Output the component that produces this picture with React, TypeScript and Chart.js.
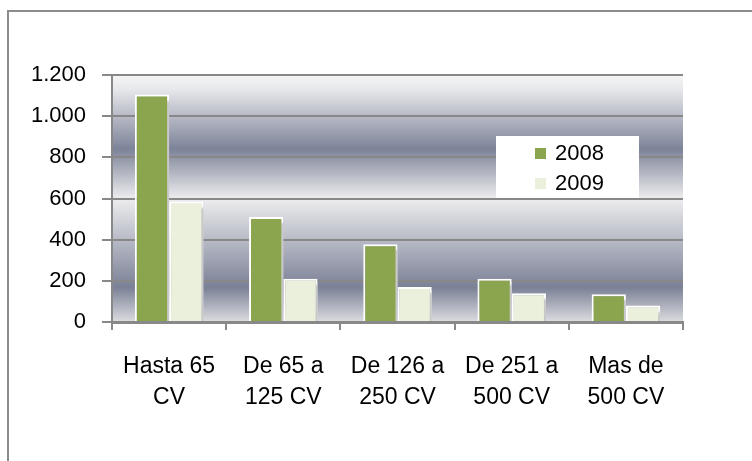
import React, { useEffect, useRef } from "react";
import { Chart, registerables } from "chart.js";

Chart.register(...registerables);

const categories: string[][] = [
  ["Hasta 65", "CV"],
  ["De 65 a", "125 CV"],
  ["De 126 a", "250 CV"],
  ["De 251 a", "500 CV"],
  ["Mas de", "500 CV"],
];
const seriesNames = ["2008", "2009"];
const values2008 = [1105, 510, 378, 210, 135];
const values2009 = [585, 210, 170, 140, 80];
const yTicks = [0, 200, 400, 600, 800, 1000, 1200];

const GREEN = "#8aa54e";
const CREAM = "#ebf0dc";
const FONT = "'Liberation Sans', Arial, sans-serif";

function fmt(v: number): string {
  if (v >= 1000) {
    return Math.floor(v / 1000) + "." + String(v % 1000).padStart(3, "0");
  }
  return String(v);
}

const bgPlugin = {
  id: "bgPlugin",
  beforeDraw(chart: any) {
    const { ctx, chartArea } = chart;
    const { left, top, right, bottom } = chartArea;
    ctx.save();
    ctx.fillStyle = "#ffffff";
    ctx.fillRect(0, 0, chart.width, chart.height);
    const g = ctx.createLinearGradient(0, top, 0, bottom);
    g.addColorStop(0, "#f6f6f7");
    g.addColorStop(0.06, "#e6e7ea");
    g.addColorStop(0.3, "#7d8398");
    g.addColorStop(0.5, "#ededef");
    g.addColorStop(0.68, "#b4b7c3");
    g.addColorStop(0.86, "#7b8196");
    g.addColorStop(1, "#dcdde1");
    ctx.fillStyle = g;
    ctx.fillRect(left, top, right - left, bottom - top);
    ctx.restore();
  },
  afterDraw(chart: any) {
    const { ctx } = chart;
    ctx.save();
    // outer frame
    ctx.fillStyle = "#8c8c8c";
    ctx.fillRect(7, 10, chart.width - 7, 2);
    ctx.fillRect(7, 10, 2, chart.height - 10);
    // legend
    ctx.fillStyle = "#ffffff";
    ctx.fillRect(496, 136, 143, 62);
    const colors = [GREEN, CREAM];
    ctx.font = `22px ${FONT}`;
    ctx.textBaseline = "middle";
    ctx.textAlign = "left";
    seriesNames.forEach((name, i) => {
      const cy = 153 + i * 30;
      ctx.fillStyle = colors[i];
      ctx.fillRect(535, cy - 5, 11, 11);
      ctx.fillStyle = "#000000";
      ctx.fillText(name, 555, cy + 1);
    });
    ctx.restore();
  },
};

const shadowPlugin = {
  id: "shadowPlugin",
  beforeDatasetDraw(chart: any) {
    const ctx = chart.ctx;
    ctx.save();
    ctx.shadowColor = "rgba(200,200,200,1)";
    ctx.shadowOffsetX = 6;
    ctx.shadowOffsetY = 4;
    ctx.shadowBlur = 2;
  },
  afterDatasetDraw(chart: any) {
    chart.ctx.restore();
  },
};

export default function App() {
  const ref = useRef<HTMLCanvasElement | null>(null);
  useEffect(() => {
    if (!ref.current) return;
    const chart = new Chart(ref.current, {
      type: "bar",
      data: {
        labels: categories as any,
        datasets: [
          {
            label: seriesNames[0],
            data: values2008,
            backgroundColor: GREEN,
            borderColor: "#ffffff",
            borderWidth: 2,
            categoryPercentage: 0.6,
            barPercentage: 1.0,
          },
          {
            label: seriesNames[1],
            data: values2009,
            backgroundColor: CREAM,
            borderColor: "#ffffff",
            borderWidth: 2,
            categoryPercentage: 0.6,
            barPercentage: 1.0,
          },
        ],
      },
      options: {
        responsive: false,
        animation: false,
        layout: { padding: { top: 75, right: 69, left: 0, bottom: 0 } },
        plugins: {
          legend: { display: false },
          tooltip: { enabled: false },
        },
        scales: {
          x: {
            grid: {
              drawOnChartArea: false,
              drawTicks: true,
              tickLength: 8,
              color: "#888888",
              lineWidth: 2,
              offset: true,
            },
            border: { color: "#888888", width: 3 },
            ticks: {
              color: "#000000",
              padding: 21,
              maxRotation: 0,
              autoSkip: false,
              font: { family: FONT, size: 23, lineHeight: 1.35 },
            },
            afterFit(scale: any) {
              scale.height = 139;
            },
          },
          y: {
            min: 0,
            max: 1200,
            afterBuildTicks(scale: any) {
              scale.ticks = yTicks.map((v) => ({ value: v }));
            },
            grid: {
              color: "#888888",
              lineWidth: 2,
              tickLength: 10,
              drawTicks: true,
            },
            border: { color: "#888888", width: 2 },
            ticks: {
              color: "#000000",
              padding: 16,
              font: { family: FONT, size: 22 },
              callback: (v: any) => fmt(Number(v)),
            },
            afterFit(scale: any) {
              scale.width = 112;
            },
          },
        },
      },
      plugins: [bgPlugin, shadowPlugin],
    });
    return () => chart.destroy();
  }, []);
  return (
    <div style={{ position: "fixed", left: 0, top: 0, width: 752, height: 461 }}>
      <canvas ref={ref} width={752} height={461} style={{ width: 752, height: 461 }} />
    </div>
  );
}
